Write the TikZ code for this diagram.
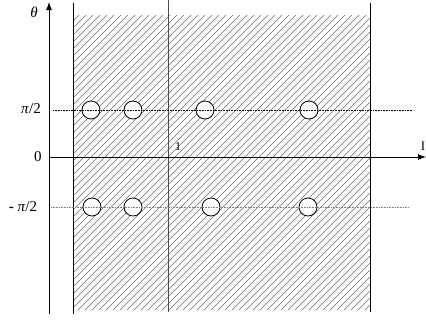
\documentclass[tikz,border=0pt]{standalone}
\usepackage{fontspec}
\setmainfont{Liberation Serif}
\usetikzlibrary{arrows.meta}
\begin{document}
\begin{tikzpicture}[x=1pt,y=-1pt,
  axis/.style={line width=1pt,-{Latex[length=8pt,width=6pt]}},
  bound/.style={line width=1pt},
  hatch/.style={gray!85!black,line width=0.6pt},
  level/.style={densely dotted,line width=0.6pt},
  hole/.style={circle,draw,line width=0.8pt,minimum size=18pt,inner sep=0pt,fill=white},
  lbl/.style={font=\fontsize{15}{17}\selectfont,inner sep=0pt}]
\useasboundingbox (0,0) rectangle (426,322);
% hatching
\begin{scope}
\clip (73,15) rectangle (370,310);
\foreach \s in {-300,-293,...,380} {
  \draw[hatch] (\s,310) -- ++(300,-300);
}
\end{scope}
% boundary lines
\coordinate (a1) at (73,3); \coordinate (a2) at (73,314);
\coordinate (b1) at (168,0); \coordinate (b2) at (168,312);
\coordinate (c1) at (370,3); \coordinate (c2) at (370,312);
\draw[bound] (a1) -- (a2);
\draw[bound,gray!60!black] (b1) -- (b2);
\draw[bound] (c1) -- (c2);
% axes
\coordinate (o) at (49,157);
\coordinate (ybot) at (49,314); \coordinate (ytop) at (49,2);
\coordinate (xend) at (426,157);
\draw[axis] (ybot) -- (ytop);
\draw[axis] (o) -- (xend);
% holes
\foreach \x/\n in {91/u1,133/u2,205/u3,309/u4} \node[hole] (\n) at (\x,110) {};
\foreach \x/\n in {92/d1,133/d2,211/d3,308/d4} \node[hole] (\n) at (\x,207) {};
% levels
\coordinate (p1) at (53,110); \coordinate (p2) at (413,110);
\coordinate (m1) at (51,207); \coordinate (m2) at (408,207);
\draw[level] (p1) -- (p2);
\draw[level,gray] (m1) -- (m2);
% labels
\node[lbl] (th) at (34,12) {\textit{θ}};
\node[lbl] (hp) at (31,109) {\textit{π}/2};
\node[lbl] (hm) at (23,207) {\textbf{-} \textit{π}/2};
\node[lbl] (zero) at (38,157) {0};
\node[lbl,font=\fontsize{12}{14}\selectfont] (one) at (178,147) {1};
\node[lbl,font=\fontsize{13}{14}\selectfont] (ii) at (423,146) {I};
\end{tikzpicture}
\end{document}
